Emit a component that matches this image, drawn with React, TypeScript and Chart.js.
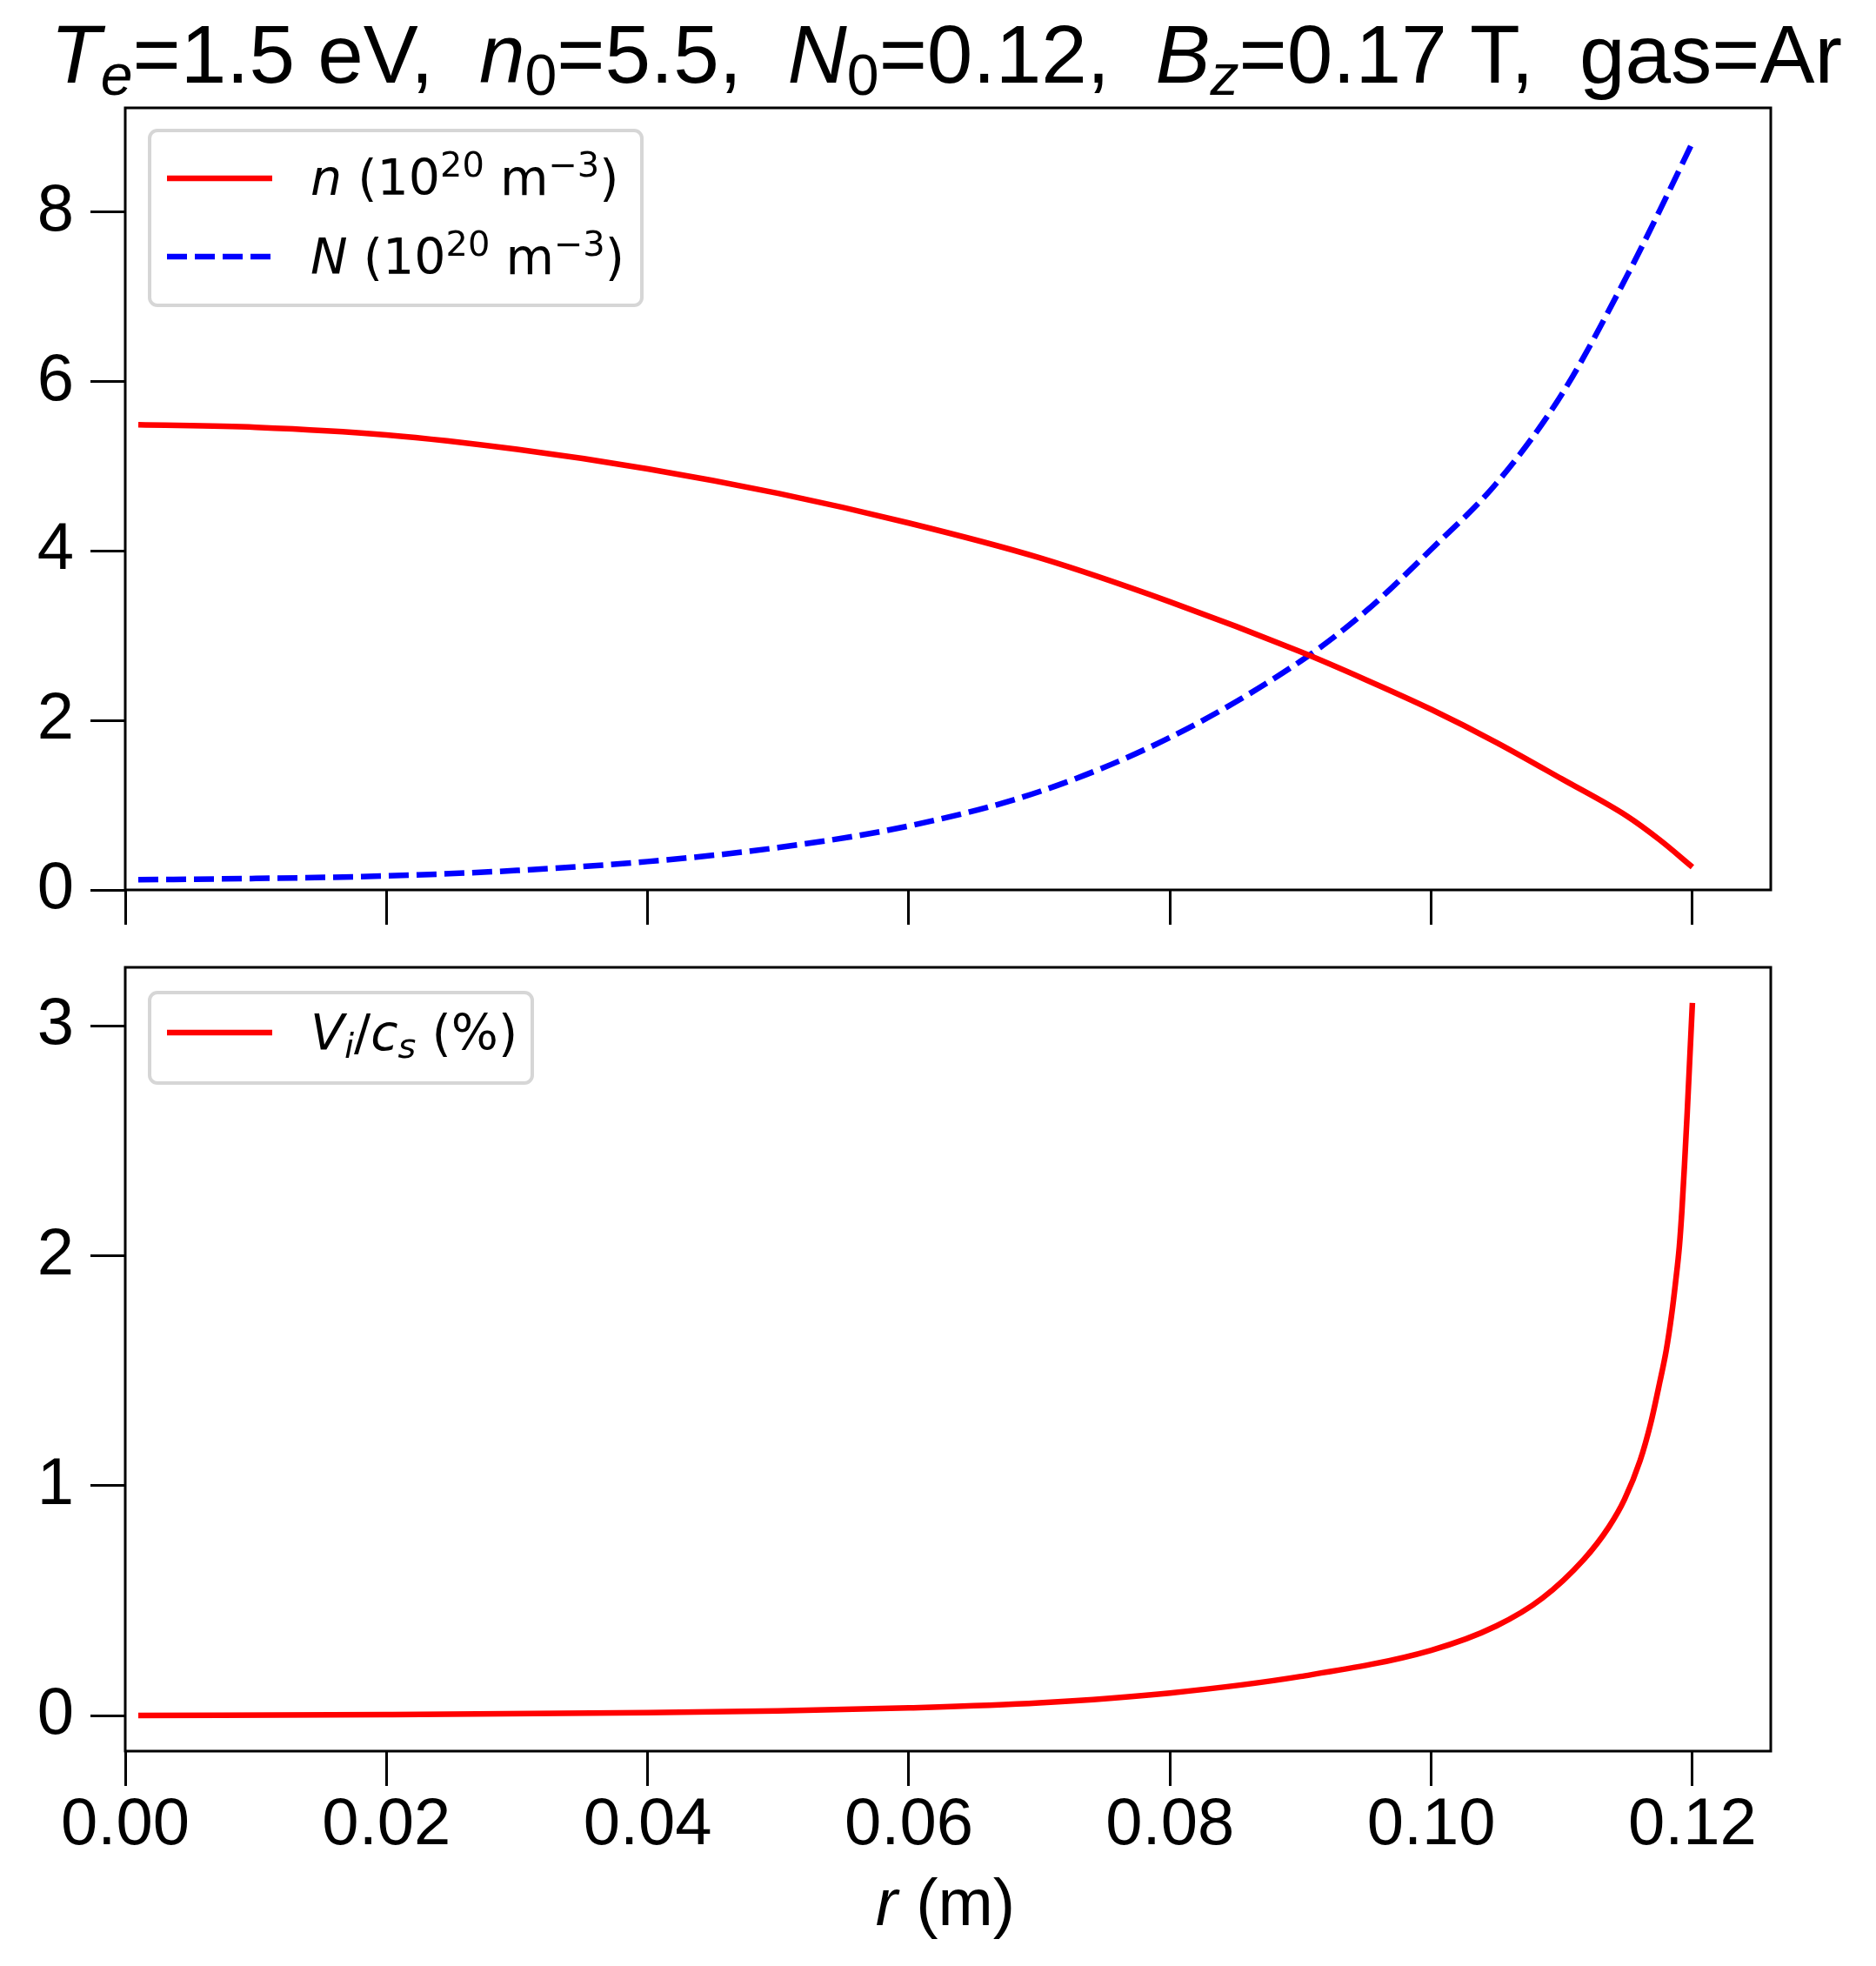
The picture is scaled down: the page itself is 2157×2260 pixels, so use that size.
import { useEffect, useRef } from 'react';
import { Chart, registerables } from 'chart.js';

Chart.register(...registerables);

// radial grid (m) for the density profiles
const rGrid = [0.001, 0.01, 0.02, 0.03, 0.04, 0.05, 0.06, 0.07, 0.08, 0.09, 0.095, 0.1, 0.105, 0.11, 0.115, 0.1175, 0.12];
// plasma density n (1e20 m^-3)
const nValues = [5.49, 5.46, 5.37, 5.2, 4.97, 4.68, 4.33, 3.92, 3.4, 2.81, 2.48, 2.13, 1.74, 1.31, 0.87, 0.59, 0.27];
// neutral density N (1e20 m^-3)
const NValues = [0.12, 0.135, 0.165, 0.23, 0.335, 0.5, 0.755, 1.16, 1.8, 2.7, 3.29, 4.02, 4.8, 5.85, 7.25, 8.02, 8.82];

// radial grid (m) for the ion velocity, denser near the wall
const rVi = [
  0.001, 0.02, 0.04, 0.05, 0.06, 0.07, 0.08, 0.09, 0.1, 0.105, 0.1085, 0.1117, 0.1136, 0.1148,
  0.116, 0.1168, 0.1175, 0.118, 0.1184, 0.1187, 0.119, 0.1192, 0.1194, 0.1196, 0.1198, 0.12,
];
// V_i / c_s (%)
const viValues = [
  0.0, 0.004, 0.012, 0.02, 0.033, 0.055, 0.098, 0.17, 0.284, 0.39, 0.51, 0.68, 0.82, 0.94,
  1.11, 1.27, 1.45, 1.59, 1.74, 1.88, 2.04, 2.2, 2.4, 2.62, 2.86, 3.1,
];

const rTicks = [0, 0.02, 0.04, 0.06, 0.08, 0.1, 0.12];
const densTicks = [0, 2, 4, 6, 8];
const viTicks = [0, 1, 2, 3];

type Seg = { t: string; it?: boolean; sub?: boolean; sup?: boolean };

const titleSegs: Seg[] = [
  { t: 'T', it: true }, { t: 'e', it: true, sub: true }, { t: '=1.5 eV,  ' },
  { t: 'n', it: true }, { t: '0', sub: true }, { t: '=5.5,  ' },
  { t: 'N', it: true }, { t: '0', sub: true }, { t: '=0.12,  ' },
  { t: 'B', it: true }, { t: 'z', it: true, sub: true }, { t: '=0.17 T,  gas=Ar' },
];
const nLabel: Seg[] = [{ t: 'n', it: true }, { t: ' (10' }, { t: '20', sup: true }, { t: ' m' }, { t: '\u22123', sup: true }, { t: ')' }];
const NLabel: Seg[] = [{ t: 'N', it: true }, { t: ' (10' }, { t: '20', sup: true }, { t: ' m' }, { t: '\u22123', sup: true }, { t: ')' }];
const viLabel: Seg[] = [{ t: 'V', it: true }, { t: 'i', it: true, sub: true }, { t: '/' }, { t: 'c', it: true }, { t: 's', it: true, sub: true }, { t: ' (%)' }];
const xLabel: Seg[] = [{ t: 'r', it: true }, { t: ' (m)' }];

const SANS = 'Liberation Sans';
const MATH = 'DejaVu Sans';
const tickFont = { family: SANS, size: 76 };
const LW = 6.5;
const DASH = [23, 9];

function drawRich(ctx: CanvasRenderingContext2D, segs: Seg[], x: number, y: number, size: number, family: string, align: 'left' | 'center') {
  const fontFor = (s: Seg) => `${s.it ? 'italic ' : ''}${s.sub || s.sup ? size * 0.7 : size}px "${family}"`;
  let w = 0;
  for (const s of segs) {
    ctx.font = fontFor(s);
    w += ctx.measureText(s.t).width;
  }
  let cx = align === 'center' ? x - w / 2 : x;
  ctx.textAlign = 'left';
  ctx.textBaseline = 'alphabetic';
  ctx.fillStyle = '#000';
  for (const s of segs) {
    ctx.font = fontFor(s);
    const dy = s.sub ? size * 0.15 : s.sup ? -size * 0.37 : 0;
    ctx.fillText(s.t, cx, y + dy);
    cx += ctx.measureText(s.t).width;
  }
}

type LegendRow = { label: Seg[]; color: string; dash: number[]; y: number; base: number };

function drawLegend(ctx: CanvasRenderingContext2D, x0: number, y0: number, x1: number, y1: number, rows: LegendRow[]) {
  ctx.save();
  ctx.beginPath();
  ctx.roundRect(x0, y0, x1 - x0, y1 - y0, 9);
  ctx.fillStyle = 'rgba(255,255,255,0.8)';
  ctx.fill();
  ctx.lineWidth = 4;
  ctx.strokeStyle = '#d6d6d6';
  ctx.stroke();
  for (const row of rows) {
    ctx.beginPath();
    ctx.setLineDash(row.dash);
    ctx.lineCap = 'butt';
    ctx.lineWidth = LW;
    ctx.strokeStyle = row.color;
    ctx.moveTo(192, row.y);
    ctx.lineTo(313, row.y);
    ctx.stroke();
    ctx.setLineDash([]);
    drawRich(ctx, row.label, 357, row.base, 57, MATH, 'left');
  }
  ctx.restore();
}

const axisGrid = { drawOnChartArea: false, drawTicks: true, tickLength: 40, tickWidth: 3, tickColor: '#000' };

const noPad = (s: any) => {
  s.paddingTop = 0;
  s.paddingBottom = 0;
  s.paddingLeft = 0;
  s.paddingRight = 0;
};

function xScale(showLabels: boolean, height: number) {
  return {
    type: 'linear' as const,
    min: 0,
    max: 0.126,
    afterBuildTicks: (s: any) => { s.ticks = rTicks.map((v) => ({ value: v })); },
    afterFit: (s: any) => { s.height = height; noPad(s); },
    grid: axisGrid,
    border: { display: false },
    ticks: {
      display: showLabels,
      autoSkip: false,
      maxRotation: 0,
      padding: 0,
      color: '#000',
      font: tickFont,
      callback: (v: any) => Number(v).toFixed(2),
    },
  };
}

function yScale(min: number, max: number, ticks: number[]) {
  return {
    type: 'linear' as const,
    min,
    max,
    afterBuildTicks: (s: any) => { s.ticks = ticks.map((v) => ({ value: v })); },
    afterFit: (s: any) => { s.width = 144; noPad(s); },
    grid: axisGrid,
    border: { display: false },
    ticks: { padding: 19, color: '#000', font: tickFont, callback: (v: any) => String(v) },
  };
}

const frame = {
  id: 'frame',
  afterDatasetsDraw(chart: any) {
    const { ctx, chartArea } = chart;
    ctx.save();
    ctx.lineWidth = 3;
    ctx.strokeStyle = '#000';
    ctx.strokeRect(chartArea.left, chartArea.top, chartArea.right - chartArea.left, chartArea.bottom - chartArea.top);
    ctx.restore();
  },
};

const line = (xs: number[], ys: number[], color: string, dash: number[] = []) => ({
  data: xs.map((x, i) => ({ x, y: ys[i] })),
  borderColor: color,
  borderWidth: LW,
  borderDash: dash,
  borderCapStyle: 'butt' as const,
  pointRadius: 0,
  fill: false,
  cubicInterpolationMode: 'monotone' as const,
});

const baseOptions = {
  animation: false as const,
  responsive: false,
  maintainAspectRatio: false,
  devicePixelRatio: 1,
  plugins: { legend: { display: false }, tooltip: { enabled: false } },
};

const App = () => {
  const topRef = useRef<HTMLCanvasElement>(null);
  const botRef = useRef<HTMLCanvasElement>(null);

  useEffect(() => {
    if (!topRef.current || !botRef.current) return;

    const top = new Chart(topRef.current, {
      type: 'line',
      data: {
        datasets: [line(rGrid, nValues, '#ff0000'), line(rGrid, NValues, '#0000ff', DASH)],
      },
      options: {
        ...baseOptions,
        layout: { padding: { left: 0, right: 121, top: 124, bottom: 0 } },
        scales: { x: xScale(false, 47), y: yScale(0, 9.23, densTicks) },
      } as any,
      plugins: [
        frame,
        {
          id: 'topDecor',
          afterDraw(chart: any) {
            const ctx = chart.ctx;
            drawRich(ctx, titleSegs, 1088, 95, 94.5, SANS, 'center');
            drawLegend(ctx, 172, 150, 738, 351, [
              { label: nLabel, color: '#ff0000', dash: [], y: 205, base: 224 },
              { label: NLabel, color: '#0000ff', dash: DASH, y: 295, base: 315 },
            ]);
          },
        },
      ],
    });

    const bottom = new Chart(botRef.current, {
      type: 'line',
      data: { datasets: [line(rVi, viValues, '#ff0000')] },
      options: {
        ...baseOptions,
        layout: { padding: { left: 0, right: 121, top: 42, bottom: 0 } },
        scales: { x: xScale(true, 247), y: yScale(-0.155, 3.255, viTicks) },
      } as any,
      plugins: [
        frame,
        {
          id: 'bottomDecor',
          afterDraw(chart: any) {
            const ctx = chart.ctx;
            drawLegend(ctx, 172, 71, 612, 175, [
              { label: viLabel, color: '#ff0000', dash: [], y: 117, base: 137 },
            ]);
            drawRich(ctx, xLabel, 1087, 1143, 76, SANS, 'center');
          },
        },
      ],
    });

    return () => {
      top.destroy();
      bottom.destroy();
    };
  }, []);

  return (
    <div style={{ position: 'absolute', left: 0, top: 0, width: 2157, height: 2260, background: '#fff' }}>
      <canvas ref={topRef} width={2157} height={1070} style={{ position: 'absolute', left: 0, top: 0, width: 2157, height: 1070 }} />
      <canvas ref={botRef} width={2157} height={1190} style={{ position: 'absolute', left: 0, top: 1070, width: 2157, height: 1190 }} />
    </div>
  );
};

export default App;
